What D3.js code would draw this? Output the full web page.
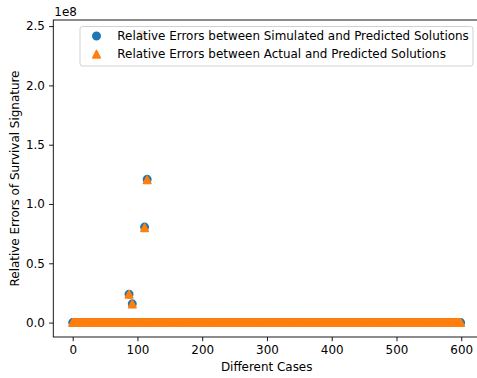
<!DOCTYPE html>
<html>
<head>
<meta charset="utf-8">
<script src="https://cdn.jsdelivr.net/npm/d3@7"></script>
<style>
  html, body { margin: 0; padding: 0; background: #fff; }
  svg { display: block; }
  text { font-family: "DejaVu Sans", sans-serif; fill: #000; }
</style>
</head>
<body>
<svg id="chart" width="477" height="378"></svg>
<script>
// Number of cases evaluated (indexed 0 .. caseCount-1)
const caseCount = 600;

// Cases whose relative error stands out from the near-zero baseline
const outlierCases = [87, 92, 107, 111, 115];
const simulatedOutliers = [0.240e8, 0.158e8, 2.43e8, 0.805e8, 1.208e8];
const actualOutliers    = [0.238e8, 0.156e8, 2.43e8, 0.800e8, 1.205e8];

// All remaining cases have a relative error indistinguishable from zero at this scale
const baselineError = 0;

const xTicks = [0, 100, 200, 300, 400, 500, 600];
const yTicks = [0, 0.5e8, 1.0e8, 1.5e8, 2.0e8, 2.5e8];
const yTickLabels = ["0.0", "0.5", "1.0", "1.5", "2.0", "2.5"];

const seriesNames = [
  "Relative Errors between Simulated and Predicted Solutions",
  "Relative Errors between Actual and Predicted Solutions"
];
const colors = ["#1f77b4", "#ff7f0e"];

function buildSeries(outlierValues) {
  const lookup = new Map(outlierCases.map((c, i) => [c, outlierValues[i]]));
  return d3.range(caseCount).map(c => ({ x: c, y: lookup.has(c) ? lookup.get(c) : baselineError }));
}
const simulated = buildSeries(simulatedOutliers);
const actual = buildSeries(actualOutliers);

const svg = d3.select("#chart");
const box = { left: 53.3, right: 480, top: 20, bottom: 337 };
const fontSize = 11.95;

// Axis limits with a 5% margin around the data, as in a default scatter plot
const allX = simulated.map(d => d.x);
const allY = simulated.concat(actual).map(d => d.y);
const [xMin, xMax] = d3.extent(allX);
const [yMin, yMax] = d3.extent(allY);
const xPad = (xMax - xMin) * 0.05, yPad = (yMax - yMin) * 0.05;

const x = d3.scaleLinear().domain([xMin - xPad, xMax + xPad]).range([box.left, box.right]);
const y = d3.scaleLinear().domain([yMin - yPad, yMax + yPad]).range([box.bottom, box.top]);

const plot = svg.append("g");

// Markers
const r = 3.6, sw = 1.8;
plot.append("g").selectAll("circle").data(simulated).join("circle")
  .attr("cx", d => x(d.x)).attr("cy", d => y(d.y)).attr("r", r)
  .attr("fill", colors[0]).attr("stroke", colors[0]).attr("stroke-width", sw);

const tri = d3.line()([[0, -r], [-r, r], [r, r]]) + "Z";
plot.append("g").selectAll("path").data(actual).join("path")
  .attr("d", tri)
  .attr("transform", d => `translate(${x(d.x)},${y(d.y)})`)
  .attr("fill", colors[1]).attr("stroke", colors[1]).attr("stroke-width", sw)
  .attr("stroke-linejoin", "round");

// Axes
const xAxis = d3.axisBottom(x).tickValues(xTicks).tickSize(4.2).tickPadding(4.2).tickFormat(d3.format("d"));
const yAxis = d3.axisLeft(y).tickValues(yTicks).tickSize(4.2).tickPadding(4.2)
  .tickFormat((d, i) => yTickLabels[i]);

const gx = svg.append("g").attr("transform", `translate(0,${box.bottom})`).call(xAxis);
const gy = svg.append("g").attr("transform", `translate(${box.left},0)`).call(yAxis);
[gx, gy].forEach(g => {
  g.select(".domain").remove();
  g.selectAll(".tick line").attr("stroke", "#000").attr("stroke-width", 0.9);
  g.selectAll(".tick text").attr("font-family", "DejaVu Sans").attr("font-size", fontSize).attr("fill", "#000");
});

// Spines (right one falls just outside the visible area)
svg.append("rect").attr("x", box.left).attr("y", box.top)
  .attr("width", box.right - box.left).attr("height", box.bottom - box.top)
  .attr("fill", "none").attr("stroke", "#000").attr("stroke-width", 0.9);

// Offset text for the y axis scale
svg.append("text").attr("x", box.left + 1).attr("y", 16).attr("font-size", fontSize).text("1e8");

// Axis titles
svg.append("text").attr("x", (box.left + box.right) / 2).attr("y", 371).attr("text-anchor", "middle")
  .attr("font-size", fontSize).text("Different Cases");
svg.append("text").attr("transform", `translate(18.5,${(box.top + box.bottom) / 2}) rotate(-90)`)
  .attr("text-anchor", "middle").attr("font-size", fontSize).text("Relative Errors of Survival Signature");

// Legend
const lg = svg.append("g");
lg.append("rect").attr("x", 80).attr("y", 26.5).attr("width", 393).attr("height", 39.5)
  .attr("rx", 2.5).attr("fill", "#fff").attr("fill-opacity", 0.8)
  .attr("stroke", "#ccc").attr("stroke-width", 0.9);
const rows = lg.selectAll("g.row").data(seriesNames).join("g").attr("class", "row")
  .attr("transform", (d, i) => `translate(0,${i * 18.2})`);
rows.each(function (d, i) {
  const g = d3.select(this);
  if (i === 0) {
    g.append("circle").attr("cx", 96.5).attr("cy", 36).attr("r", r)
      .attr("fill", colors[0]).attr("stroke", colors[0]).attr("stroke-width", sw);
  } else {
    g.append("path").attr("d", tri).attr("transform", "translate(96.5,36)")
      .attr("fill", colors[1]).attr("stroke", colors[1]).attr("stroke-width", sw)
      .attr("stroke-linejoin", "round");
  }
  g.append("text").attr("x", 117.3).attr("y", 39.8).attr("font-size", fontSize).text(d);
});
</script>
</body>
</html>
